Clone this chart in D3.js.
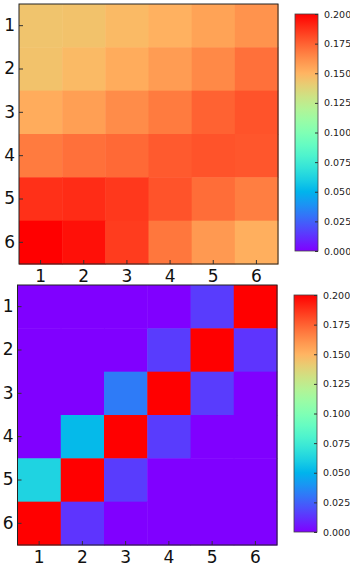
<!DOCTYPE html>
<html>
<head>
<meta charset="utf-8">
<script src="https://cdn.jsdelivr.net/npm/d3@7"></script>
<style>
  body { margin: 0; background: #fff; }
  svg { display: block; font-family: "DejaVu Sans", sans-serif; }
</style>
</head>
<body>
<script>
// labels for rows / columns
var labels = [1, 2, 3, 4, 5, 6];

// top matrix (row by row)
var topValues = [
  [0.144, 0.145, 0.148, 0.151, 0.156, 0.161],
  [0.145, 0.148, 0.153, 0.158, 0.164, 0.171],
  [0.153, 0.157, 0.163, 0.168, 0.175, 0.179],
  [0.168, 0.171, 0.173, 0.177, 0.179, 0.178],
  [0.188, 0.189, 0.186, 0.179, 0.172, 0.167],
  [0.200, 0.196, 0.185, 0.169, 0.159, 0.152]
];

// bottom matrix (row by row)
var bottomValues = [
  [0, 0, 0, 0, 0.015, 0.2],
  [0, 0, 0, 0.015, 0.2, 0.013],
  [0, 0, 0.032, 0.2, 0.015, 0],
  [0, 0.052, 0.2, 0.015, 0, 0],
  [0.062, 0.2, 0.015, 0, 0, 0],
  [0.2, 0.013, 0, 0, 0, 0]
];

var cbarTicks = [0, 0.025, 0.05, 0.075, 0.1, 0.125, 0.15, 0.175, 0.2];

var width = 350, height = 567;

// matplotlib "rainbow" colormap
function rainbow(t) {
  var r = Math.min(1, Math.abs(2 * t - 0.5)),
      g = Math.sin(Math.PI * t),
      b = Math.cos(Math.PI * t / 2);
  return d3.rgb(r * 255, g * 255, Math.max(0, b) * 255).toString();
}

var color = d3.scaleSequential(rainbow).domain([0, 0.2]).clamp(true);

var svg = d3.select("body").append("svg")
    .attr("width", width)
    .attr("height", height);

var defs = svg.append("defs");
var grad = defs.append("linearGradient")
    .attr("id", "cbar")
    .attr("x1", 0).attr("y1", 1)
    .attr("x2", 0).attr("y2", 0);
d3.range(0, 1.0001, 0.05).forEach(function(t) {
  grad.append("stop")
      .attr("offset", t)
      .attr("stop-color", rainbow(t));
});

function heatmap(data, box, cb) {
  var x = d3.scaleBand().domain(labels).range([box.left, box.right]);
  var y = d3.scaleBand().domain(labels).range([box.top, box.bottom]);

  var g = svg.append("g");

  data.forEach(function(row, i) {
    g.selectAll(null)
        .data(row)
      .enter().append("rect")
        .attr("x", function(d, j) { return x(labels[j]); })
        .attr("y", y(labels[i]))
        .attr("width", x.bandwidth() + 0.5)
        .attr("height", y.bandwidth() + 0.5)
        .attr("fill", function(d) { return color(d); });
  });

  // axes, ticks pointing inward
  var xAxis = g.append("g")
      .attr("transform", "translate(0," + box.bottom + ")")
      .call(d3.axisBottom(x).tickSize(-4).tickPadding(5.5));
  var yAxis = g.append("g")
      .attr("transform", "translate(" + box.left + ",0)")
      .call(d3.axisLeft(y).tickSize(-4).tickPadding(4));
  [xAxis, yAxis].forEach(function(a) {
    a.select(".domain").remove();
    a.selectAll("line").attr("stroke", "#333");
    a.selectAll("text")
        .attr("font-size", "17px")
        .attr("font-family", "DejaVu Sans, sans-serif")
        .attr("fill", "#111");
  });

  g.append("rect")
      .attr("x", box.left).attr("y", box.top)
      .attr("width", box.right - box.left)
      .attr("height", box.bottom - box.top)
      .attr("fill", "none")
      .attr("stroke", "#222")
      .attr("stroke-width", 1);

  // colorbar
  var cy = d3.scaleLinear().domain([0, 0.2]).range([cb.bottom, cb.top]);
  g.append("rect")
      .attr("x", cb.left).attr("y", cb.top)
      .attr("width", cb.right - cb.left)
      .attr("height", cb.bottom - cb.top)
      .attr("fill", "url(#cbar)")
      .attr("stroke", "#444")
      .attr("stroke-width", 0.8);

  var cAxis = g.append("g")
      .attr("transform", "translate(" + cb.right + ",0)")
      .call(d3.axisRight(cy).tickValues(cbarTicks).tickFormat(d3.format(".3f"))
        .tickSize(-3).tickPadding(6));
  cAxis.select(".domain").remove();
  cAxis.selectAll("line").attr("stroke", "#333");
  cAxis.selectAll("text")
      .attr("font-size", "9.5px")
      .attr("font-family", "DejaVu Sans, sans-serif")
      .attr("fill", "#222");
}

heatmap(topValues,
  {left: 19, right: 278, top: 4, bottom: 264},
  {left: 295, right: 318, top: 14, bottom: 251});

heatmap(bottomValues,
  {left: 17.5, right: 277, top: 285, bottom: 545},
  {left: 294, right: 317, top: 295, bottom: 532});
</script>
</body>
</html>
